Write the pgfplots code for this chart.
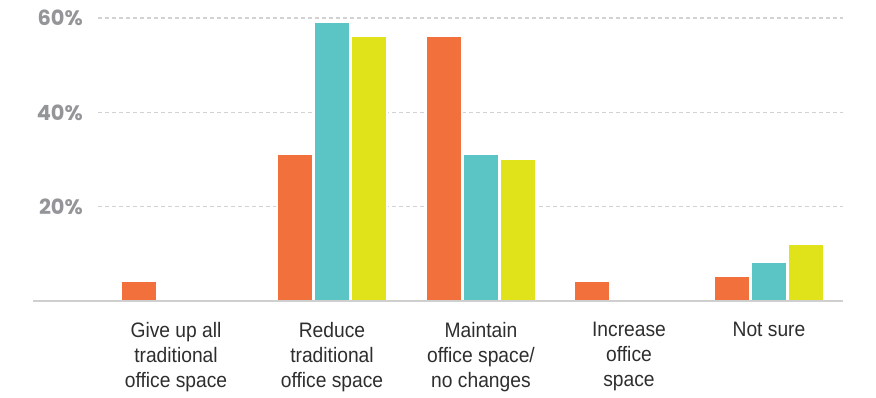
\documentclass[border=0pt]{standalone}
\usepackage{pgfplots}
\pgfplotsset{compat=1.18}
\usepackage{fontspec}
\setmainfont{Liberation Sans}
\newfontfamily\labelfont[FakeStretch=0.92]{Liberation Sans}
\newfontfamily\tickfont{Poppins}
\definecolor{cOrange}{HTML}{F2703C}
\definecolor{cTeal}{HTML}{5BC5C5}
\definecolor{cYellow}{HTML}{E1E31A}
\definecolor{cGrayText}{HTML}{939598}
\definecolor{cGrid}{HTML}{D2D2D2}
\definecolor{cBase}{HTML}{CFCFCF}
\begin{document}
\begin{tikzpicture}
\path[use as bounding box] (-33bp,-97bp) rectangle (843bp,301bp);
\begin{axis}[
  at={(0,0)}, anchor=south west,
  scale only axis,
  width=810bp, height=283bp,
  xmin=33, xmax=843, ymin=0, ymax=60,
  clip=false,
  axis line style={draw=none},
  major tick length=0pt,
  xtick={176,332,481,629,769},
  xticklabels={{Give up all\\traditional\\office space},{Reduce\\traditional\\office space},{Maintain\\office space/\\no changes},{Increase\\office\\space},{Not sure}},
  xticklabel style={align=center, anchor=north, font=\labelfont\fontsize{21}{25}\selectfont, text=black!82, yshift=-18bp},
  ytick={20,40,60},
  yticklabels={20\%,40\%,60\%},
  yticklabel style={anchor=east, inner sep=0pt, xshift=50bp, font=\tickfont\bfseries\fontsize{21}{24}\selectfont, text=cGrayText},
]
\draw[cGrid, line width=1.3bp, dash pattern=on 4bp off 3bp] (axis cs:98,20) -- (axis cs:843,20);
\draw[cGrid, line width=1.3bp, dash pattern=on 4bp off 3bp] (axis cs:98,40) -- (axis cs:843,40);
\draw[cGrid, line width=1.3bp, dash pattern=on 4bp off 3bp] (axis cs:98,60) -- (axis cs:843,60);
\addplot[ybar, bar width=36bp, bar shift=-37bp, fill=cOrange, draw=white, line width=2bp] coordinates {(176,4.2) (332,31.2) (481,56.2) (629,4.2) (769,5.2)};
\addplot[ybar, bar width=36bp, bar shift=0bp, fill=cTeal, draw=white, line width=2bp] coordinates {(332,59.1) (481,31.2) (769,8.2)};
\addplot[ybar, bar width=36bp, bar shift=37bp, fill=cYellow, draw=white, line width=2bp] coordinates {(332,56.2) (481,30.2) (769,12.1)};
\draw[cBase, line width=1.5bp] (axis cs:33,0) -- (axis cs:843,0);
\end{axis}
\end{tikzpicture}
\end{document}
